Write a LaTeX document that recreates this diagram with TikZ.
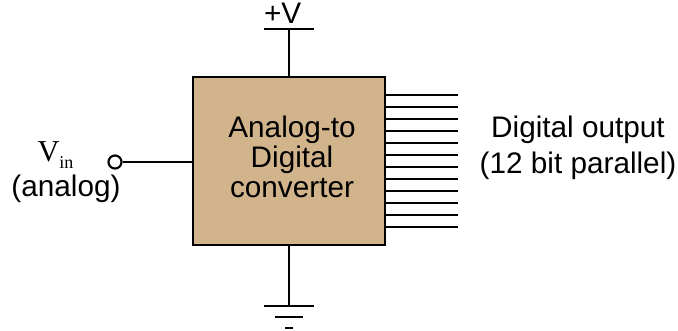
\documentclass[tikz,border=0pt]{standalone}
\usepackage{fontspec}
\setmainfont{Liberation Sans}
\newfontfamily\serifpart{Liberation Serif}
\usetikzlibrary{positioning, calc}
\definecolor{ConverterTan}{RGB}{210, 180, 140}

\begin{document}
\begin{tikzpicture}[
    x=0.75pt, y=0.75pt,
    converter/.style={draw=black, fill=ConverterTan, line width=2pt, minimum width=144pt, minimum height=126pt, inner sep=0pt},
    wire/.style={draw=black, line width=1.6pt},
    terminal/.style={circle, draw=black, line width=1.6pt, fill=white, minimum size=9.8pt, inner sep=0pt},
    railbar/.style={minimum width=37.5pt, minimum height=0pt, inner sep=0pt},
    lbl/.style={align=center, anchor=base, inner sep=0pt, font=\fontsize{22.3}{22.5}\selectfont}
]
    \useasboundingbox (0,0) rectangle (678,330);

    % Nodes
    \node[converter] (adc) at (289,169) {};
    \node[lbl] (adctext) at (292,132.7) {Analog-to \\ Digital \\ converter};

    \node[railbar, above=34.5pt of adc] (vbar) {};
    \node[lbl, anchor=south, above=4pt of vbar, xshift=-4.75pt] (vlabel) {+V};

    \node[railbar, below=44.5pt of adc] (gnd1) {};
    \node[railbar, minimum width=21pt, below=7.9pt of gnd1] (gnd2) {};
    \node[railbar, minimum width=5.25pt, below=7.9pt of gnd2] (gnd3) {};

    \node[terminal] (vin) at (115,168) {};
    \node[lbl, font=\serifpart\fontsize{22.8}{25}\selectfont] (vinlabel) at (55.5,168.3) {V\raisebox{-5pt}{\fontsize{13.5}{14}\selectfont in}};
    \node[lbl] (analog) at (66,133.3) {(analog)};

    \node[lbl, font=\fontsize{22.3}{27}\selectfont] (output) at (578,156.7) {Digital output \\ (12 bit parallel)};

    % Edges
    \draw[wire] (vin) -- (vin -| adc.west);
    \draw[wire] (adc.north) -- (vbar.center);
    \draw[wire] (vbar.west) -- (vbar.east);
    \draw[wire] (adc.south) -- (gnd1.center);
    \draw[wire] (gnd1.west) -- (gnd1.east);
    \draw[wire] (gnd2.west) -- (gnd2.east);
    \draw[wire] (gnd3.west) -- (gnd3.east);

    % Parallel output lines
    \foreach \i in {1,...,12} {
        \coordinate (pin\i) at ($(adc.north east)+(0,-19.4-12*\i+12)$);
        \coordinate (end\i) at ($(pin\i)+(72,0)$);
        \draw[wire] (pin\i) -- (end\i);
    }

\end{tikzpicture}
\end{document}
